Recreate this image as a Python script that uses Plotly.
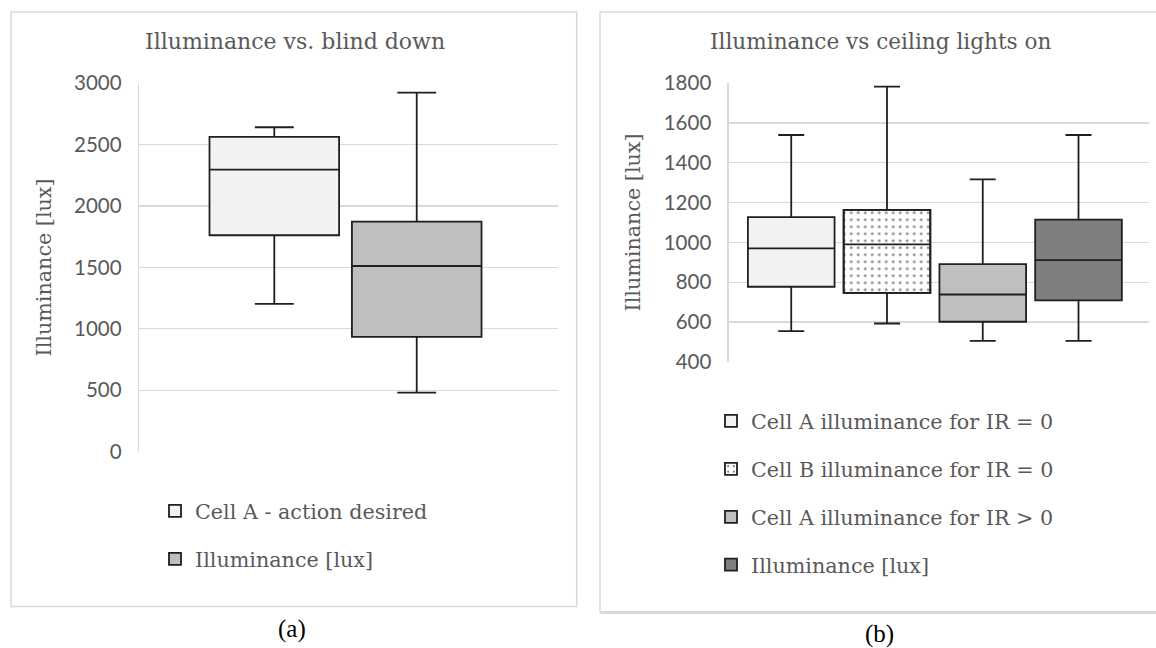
import plotly.graph_objects as go

# ---------------- data ----------------
# Panel (a): Illuminance vs. blind down
a_names = ["Cell A - action desired", "Illuminance [lux]"]
a_lower = [1202, 480]
a_q1 = [1761, 935]
a_median = [2295, 1511]
a_q3 = [2561, 1872]
a_upper = [2640, 2921]
a_fill = ["#F2F2F2", "#BFBFBF"]

# Panel (b): Illuminance vs ceiling lights on
b_names = ["Cell A illuminance for IR = 0", "Cell B illuminance for IR = 0",
           "Cell A illuminance for IR > 0", "Illuminance [lux]"]
b_lower = [554, 592, 505, 505]
b_q1 = [777, 746, 601, 708]
b_median = [970, 990, 738, 911]
b_q3 = [1127, 1163, 891, 1114]
b_upper = [1540, 1783, 1317, 1540]
b_fill = ["#F2F2F2", "pattern", "#BFBFBF", "#7F7F7F"]

a_ticks = [0, 500, 1000, 1500, 2000, 2500, 3000]
b_ticks = [400, 600, 800, 1000, 1200, 1400, 1600, 1800]

# ---------------- styling ----------------
W, H = 1156, 648
TXT = "#595959"
GRID = "#D9D9D9"
LINE = "#1F1F1F"
SERIF = "DejaVu Serif"
SANS = "Lato"
LEG_SIZE = 20.7


def px(x):
    return x / W


def py(y):
    return 1 - y / H


fig = go.Figure()

# Panel (a) boxes
for i, name in enumerate(a_names):
    fig.add_trace(go.Box(
        x=[i], q1=[a_q1[i]], median=[a_median[i]], q3=[a_q3[i]],
        lowerfence=[a_lower[i]], upperfence=[a_upper[i]],
        name=name, width=0.91, whiskerwidth=0.3,
        fillcolor=a_fill[i], line=dict(color=LINE, width=1.8),
        boxpoints=False, xaxis="x", yaxis="y", legend="legend",
        legendgroup="a%d" % i, legendrank=i + 1, hoverinfo="skip",
    ))

# Panel (b): patterned fill for the dotted box (drawn underneath the box outline)
for i, name in enumerate(b_names):
    if b_fill[i] == "pattern":
        fig.add_trace(go.Bar(
            x=[i], y=[b_q3[i] - b_q1[i]], base=[b_q1[i]], width=0.905,
            name=name,
            marker=dict(color="white",
                        pattern=dict(shape=".", fgcolor="black", bgcolor="white",
                                     size=7, solidity=0.12),
                        line=dict(color=LINE, width=1.8)),
            xaxis="x2", yaxis="y2", legend="legend2",
            legendgroup="b%d" % i, legendrank=i + 1, hoverinfo="skip",
        ))

for i, name in enumerate(b_names):
    patterned = b_fill[i] == "pattern"
    fig.add_trace(go.Box(
        x=[i], q1=[b_q1[i]], median=[b_median[i]], q3=[b_q3[i]],
        lowerfence=[b_lower[i]], upperfence=[b_upper[i]],
        name=name, width=0.905, whiskerwidth=0.3,
        fillcolor="rgba(0,0,0,0)" if patterned else b_fill[i],
        line=dict(color=LINE, width=1.8),
        boxpoints=False, xaxis="x2", yaxis="y2", legend="legend2",
        legendgroup="b%d" % i, legendrank=i + 1, showlegend=not patterned,
        hoverinfo="skip",
    ))

axis_common = dict(showgrid=False, zeroline=False, showticklabels=False,
                   fixedrange=True, automargin=False)
yaxis_common = dict(showgrid=True, gridcolor=GRID, gridwidth=1.3, zeroline=False,
                    showline=True, linecolor=GRID, linewidth=1.3, ticks="",
                    ticklabelstandoff=12, automargin=False,
                    tickfont=dict(family=SANS, size=20.5, color=TXT), fixedrange=True)


def note(text, x, y, size, angle=0, family=SERIF, color=TXT):
    return dict(text=text, x=px(x), y=py(y), xref="paper", yref="paper",
                xanchor="center", yanchor="middle", textangle=angle,
                showarrow=False, font=dict(family=family, size=size, color=color))


fig.update_layout(
    width=W, height=H,
    margin=dict(l=0, r=0, t=0, b=0, pad=0, autoexpand=False),
    paper_bgcolor="white", plot_bgcolor="white",
    showlegend=True,
    xaxis=dict(domain=[px(139), px(558.3)], range=[-0.95, 1.994], anchor="y",
               **axis_common),
    yaxis=dict(domain=[py(451.7), py(83)], range=[0, 3000], tickvals=a_ticks,
               anchor="x", **yaxis_common),
    xaxis2=dict(domain=[px(728.7), px(1148.7)], range=[-0.653, 3.733], anchor="y2",
                **axis_common),
    yaxis2=dict(domain=[py(361.7), py(83.3)], range=[400, 1800], tickvals=b_ticks,
                anchor="x2", **yaxis_common),
    legend=dict(x=px(155), y=py(491), xanchor="left", yanchor="top",
                bgcolor="rgba(0,0,0,0)", tracegroupgap=18,
                font=dict(family=SERIF, size=LEG_SIZE, color=TXT)),
    legend2=dict(x=px(711), y=py(401), xanchor="left", yanchor="top",
                 bgcolor="rgba(0,0,0,0)", tracegroupgap=18,
                 font=dict(family=SERIF, size=LEG_SIZE, color=TXT)),
    shapes=[
        dict(type="rect", xref="paper", yref="paper", x0=px(11), x1=px(576.7),
             y0=py(606.5), y1=py(12), line=dict(color=GRID, width=1.5)),
        dict(type="rect", xref="paper", yref="paper", x0=px(600), x1=px(1175),
             y0=py(612), y1=py(12), line=dict(color=GRID, width=1.5)),
        dict(type="line", xref="paper", yref="paper", x0=px(600), x1=px(1175),
             y0=py(612.5), y1=py(612.5), line=dict(color=GRID, width=3)),
    ],
    annotations=[
        note("Illuminance vs. blind down", 294.5, 42, 22),
        note("Illuminance vs ceiling lights on", 881, 42, 21.6),
        note("Illuminance [lux]", 43, 267.5, LEG_SIZE, angle=-90),
        note("Illuminance [lux]", 632, 222.5, LEG_SIZE, angle=-90),
        note("(a)", 292, 629, 25, family="Liberation Serif", color="black"),
        note("(b)", 879, 634, 25, family="Liberation Serif", color="black"),
    ],
)

fig.write_html(
    "out.html",
    config={"displayModeBar": False, "staticPlot": True},
    post_script="document.body.style.margin='0';document.body.style.overflow='hidden';",
)
